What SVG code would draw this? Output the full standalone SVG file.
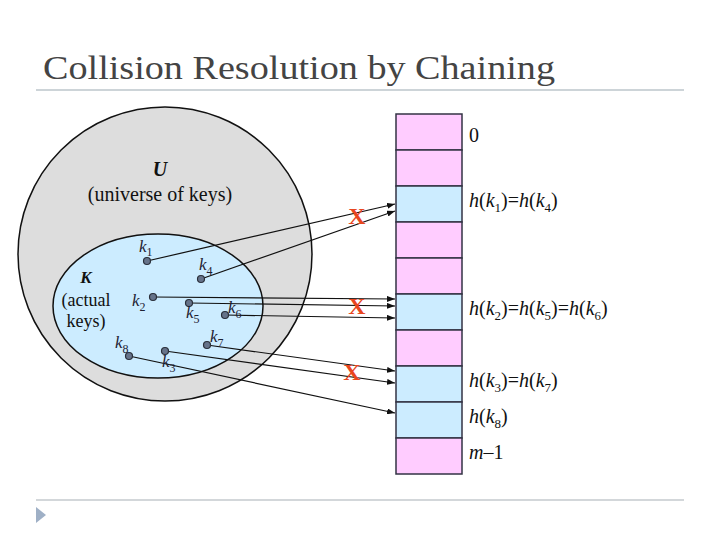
<svg xmlns="http://www.w3.org/2000/svg" width="720" height="540" viewBox="0 0 720 540">
<style>
.serif{font-family:"Liberation Serif","Times New Roman",serif;}
.title{font-family:"Liberation Serif","Times New Roman",serif;font-size:34px;fill:#444444;}
.klab{font-family:"Liberation Serif","Times New Roman",serif;font-size:17px;font-style:italic;fill:#1e2233;}
.ksub{font-size:12px;font-style:normal;}
.dot{fill:#66738a;stroke:#2a2f3a;stroke-width:1.2;}
.conn{stroke:#111111;stroke-width:1.2;fill:none;marker-end:url(#ah);}
.pink{fill:#FFCCFF;stroke:#333344;stroke-width:1.5;}
.blue{fill:#CCECFF;stroke:#333344;stroke-width:1.5;}
.tlab{font-family:"Liberation Serif","Times New Roman",serif;font-size:20px;fill:#111111;}
.it{font-style:italic;}
.sub{font-size:13px;}
.x{font-family:"Liberation Serif","Times New Roman",serif;font-size:24px;font-weight:bold;fill:#E8461E;text-anchor:middle;}
</style>
<defs>
<marker id="ah" markerUnits="userSpaceOnUse" markerWidth="8" markerHeight="6" refX="8" refY="3" orient="auto">
<path d="M0,0 L8,3 L0,6 z" fill="#111111"/>
</marker>
</defs>
<rect width="720" height="540" fill="#ffffff"/>
<g id="header">
<text class="title" x="43" y="79" textLength="512" lengthAdjust="spacingAndGlyphs">Collision Resolution by Chaining</text>
<line x1="36" y1="90" x2="684" y2="90" stroke="#CDD4D8" stroke-width="2"/>
</g>
<g id="footer">
<line x1="36" y1="500" x2="684" y2="500" stroke="#C4CACE" stroke-width="1.5"/>
<path d="M36,507 L46,515 L36,523 z" fill="#9FB0C6"/>
</g>
<g id="universe">
<circle cx="165" cy="254" r="147" fill="#DDDDDD" stroke="#111111" stroke-width="1.5"/>
<text class="serif" x="160" y="176" font-size="20" font-weight="bold" font-style="italic" text-anchor="middle" fill="#111">U</text>
<text class="serif" x="160" y="201" font-size="20" text-anchor="middle" fill="#111">(universe of keys)</text>
</g>
<g id="keyset">
<ellipse cx="158" cy="306" rx="105" ry="72" fill="#CCECFF" stroke="#111111" stroke-width="1.5"/>
<text class="serif" x="86" y="283" font-size="17" font-weight="bold" font-style="italic" text-anchor="middle" fill="#111">K</text>
<text class="serif" x="86" y="306" font-size="18" text-anchor="middle" fill="#111">(actual</text>
<text class="serif" x="86" y="327" font-size="18" text-anchor="middle" fill="#111">keys)</text>
</g>
<g id="connectors">
<line class="conn" x1="147" y1="261" x2="395" y2="204"/>
<line class="conn" x1="201" y1="279" x2="395" y2="211"/>
<line class="conn" x1="153" y1="297" x2="395" y2="299"/>
<line class="conn" x1="189" y1="303" x2="395" y2="306"/>
<line class="conn" x1="225" y1="315" x2="395" y2="318"/>
<line class="conn" x1="207" y1="345" x2="395" y2="371"/>
<line class="conn" x1="165" y1="351" x2="395" y2="383"/>
<line class="conn" x1="129" y1="356" x2="395" y2="413"/>
</g>
<g id="k1"><circle class="dot" cx="147" cy="261" r="3.5"/><text class="klab" x="139" y="252">k<tspan class="ksub" dy="4">1</tspan></text></g>
<g id="k4"><circle class="dot" cx="201" cy="279" r="3.5"/><text class="klab" x="199" y="270">k<tspan class="ksub" dy="5">4</tspan></text></g>
<g id="k2"><circle class="dot" cx="153" cy="297" r="3.5"/><text class="klab" x="132" y="306">k<tspan class="ksub" dy="5">2</tspan></text></g>
<g id="k5"><circle class="dot" cx="189" cy="303" r="3.5"/><text class="klab" x="186" y="318">k<tspan class="ksub" dy="5">5</tspan></text></g>
<g id="k6"><circle class="dot" cx="225" cy="315" r="3.5"/><text class="klab" x="228" y="313">k<tspan class="ksub" dy="5">6</tspan></text></g>
<g id="k7"><circle class="dot" cx="207" cy="345" r="3.5"/><text class="klab" x="210" y="342">k<tspan class="ksub" dy="5">7</tspan></text></g>
<g id="k3"><circle class="dot" cx="165" cy="351" r="3.5"/><text class="klab" x="162" y="367">k<tspan class="ksub" dy="5">3</tspan></text></g>
<g id="k8"><circle class="dot" cx="129" cy="356" r="3.5"/><text class="klab" x="115" y="348">k<tspan class="ksub" dy="5">8</tspan></text></g>
<g id="collisions">
<text class="x" x="357" y="224">X</text>
<text class="x" x="357" y="314">X</text>
<text class="x" x="352" y="380">X</text>
</g>
<g id="table">
<rect class="pink" x="396" y="114" width="66" height="36"/>
<rect class="pink" x="396" y="150" width="66" height="36"/>
<rect class="blue" x="396" y="186" width="66" height="36"/>
<rect class="pink" x="396" y="222" width="66" height="36"/>
<rect class="pink" x="396" y="258" width="66" height="36"/>
<rect class="blue" x="396" y="294" width="66" height="36"/>
<rect class="pink" x="396" y="330" width="66" height="36"/>
<rect class="blue" x="396" y="366" width="66" height="36"/>
<rect class="blue" x="396" y="402" width="66" height="36"/>
<rect class="pink" x="396" y="438" width="66" height="36"/>
</g>
<g id="slot-labels">
<text class="tlab" x="469" y="142">0</text>
<text class="tlab" x="469" y="207"><tspan class="it">h</tspan>(<tspan class="it">k</tspan><tspan class="sub" dy="5">1</tspan><tspan dy="-5">)=</tspan><tspan class="it">h</tspan>(<tspan class="it">k</tspan><tspan class="sub" dy="5">4</tspan><tspan dy="-5">)</tspan></text>
<text class="tlab" x="469" y="315"><tspan class="it">h</tspan>(<tspan class="it">k</tspan><tspan class="sub" dy="5">2</tspan><tspan dy="-5">)=</tspan><tspan class="it">h</tspan>(<tspan class="it">k</tspan><tspan class="sub" dy="5">5</tspan><tspan dy="-5">)=</tspan><tspan class="it">h</tspan>(<tspan class="it">k</tspan><tspan class="sub" dy="5">6</tspan><tspan dy="-5">)</tspan></text>
<text class="tlab" x="469" y="387"><tspan class="it">h</tspan>(<tspan class="it">k</tspan><tspan class="sub" dy="5">3</tspan><tspan dy="-5">)=</tspan><tspan class="it">h</tspan>(<tspan class="it">k</tspan><tspan class="sub" dy="5">7</tspan><tspan dy="-5">)</tspan></text>
<text class="tlab" x="469" y="423"><tspan class="it">h</tspan>(<tspan class="it">k</tspan><tspan class="sub" dy="5">8</tspan><tspan dy="-5">)</tspan></text>
<text class="tlab" x="469" y="459"><tspan class="it">m</tspan>–1</text>
</g>
</svg>
